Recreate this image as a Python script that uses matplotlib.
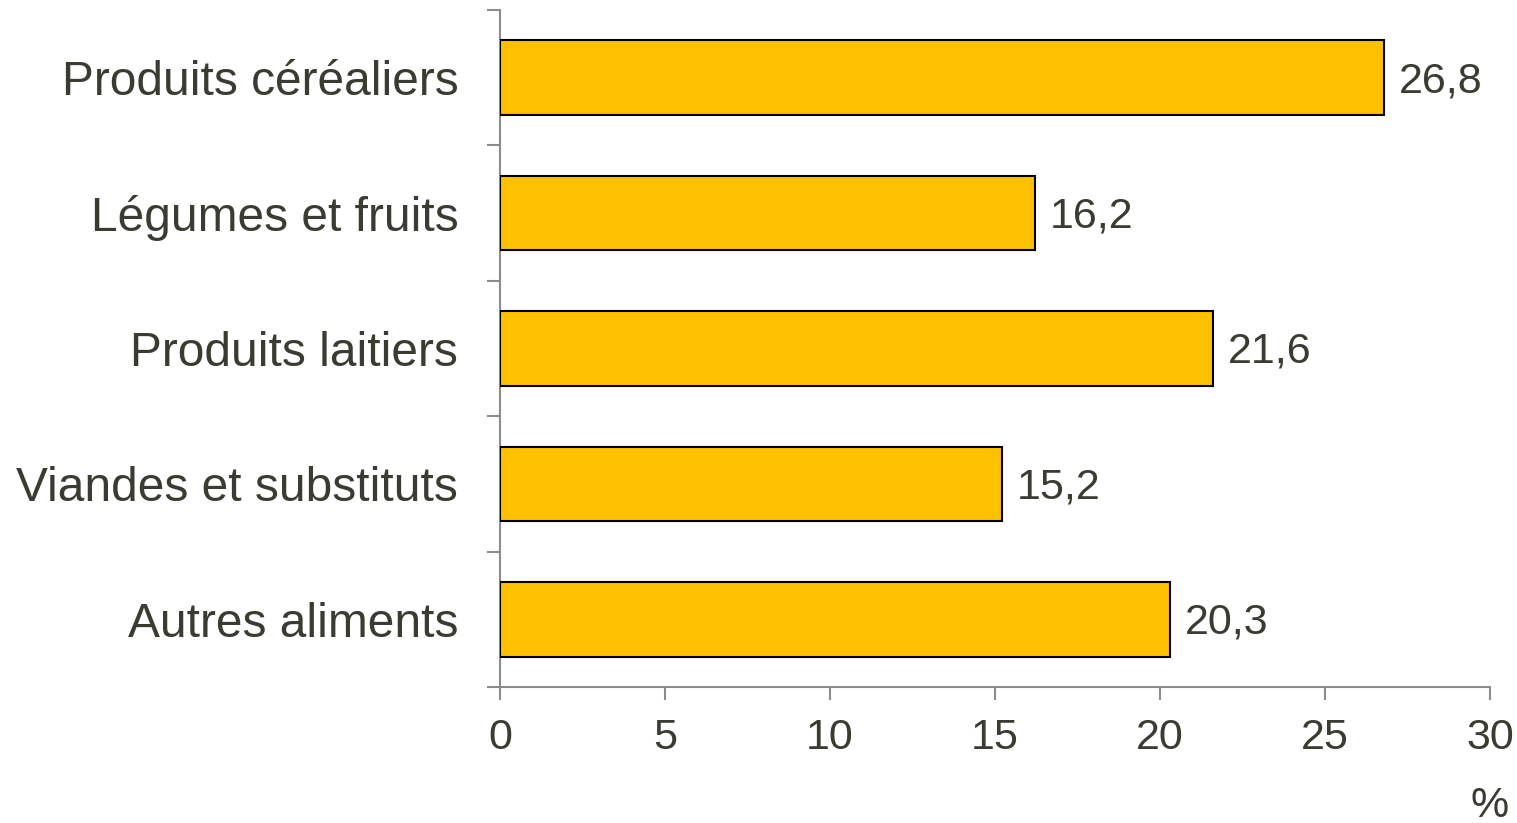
import matplotlib
matplotlib.use("Agg")
from matplotlib import pyplot as plt

# data
categories = [
    "Produits céréaliers",
    "Légumes et fruits",
    "Produits laitiers",
    "Viandes et substituts",
    "Autres aliments",
]
values = [26.8, 16.2, 21.6, 15.2, 20.3]
x_ticks = [0, 5, 10, 15, 20, 25, 30]

text_color = "#3b3b32"
axis_color = "#8c8c8c"
bar_color = "#FFC000"

plt.rcParams["font.family"] = ["Liberation Sans", "DejaVu Sans"]

fig = plt.figure(figsize=(15.17, 8.23), dpi=100)
ax = fig.add_axes([500 / 1517, 1 - 687 / 823, 990 / 1517, 677 / 823])

positions = list(range(len(categories)))
ax.barh(positions, values, height=0.55, color=bar_color,
        edgecolor="black", linewidth=1.5, zorder=3)

# value labels
for pos, val in zip(positions, values):
    ax.text(val + 0.45, pos + 0.025, f"{val:.1f}".replace(".", ","),
            va="center", ha="left", fontsize=31, color=text_color)

ax.set_xlim(0, 30)
ax.set_ylim(len(categories) - 0.5, -0.5)

# category labels at band centres, boundary ticks as minor ticks
ax.set_yticks(positions)
ax.set_yticklabels(categories, fontsize=34.5, color=text_color)
ax.tick_params(axis="y", which="major", length=0, pad=30)
ax.set_yticks([p - 0.5 for p in positions] + [len(categories) - 0.5], minor=True)
ax.tick_params(axis="y", which="minor", length=9.5, width=1.5, color=axis_color)

ax.set_xticks(x_ticks)
ax.set_xticklabels([str(t) for t in x_ticks], fontsize=31, color=text_color)
ax.tick_params(axis="x", length=9.5, width=1.5, color=axis_color, pad=13)

for side in ["top", "right"]:
    ax.spines[side].set_visible(False)
for side in ["left", "bottom"]:
    ax.spines[side].set_color(axis_color)
    ax.spines[side].set_linewidth(1.5)

fig.text(1490 / 1517, 1 - 806 / 823, "%", ha="center", va="center",
         fontsize=31, color=text_color)

fig.savefig("out.png", dpi=100)
